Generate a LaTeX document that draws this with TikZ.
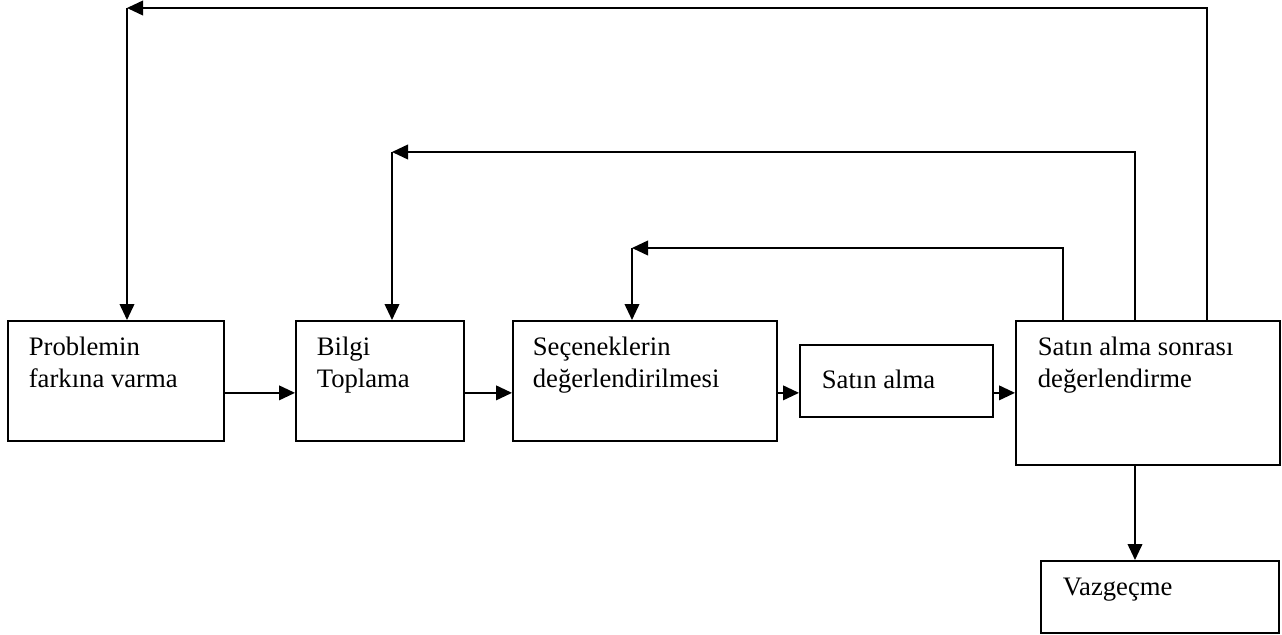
\documentclass[tikz,border=0pt]{standalone}
\usepackage{fontspec}
\setmainfont{Liberation Serif}
\usetikzlibrary{arrows.meta}

\begin{document}
\begin{tikzpicture}[x=0.75pt, y=-0.75pt, line width=1.3pt,
  kutu/.style={draw, anchor=north west, inner sep=0pt},
  yazi/.style={anchor=base west, align=left, inner sep=0pt, font=\fontsize{20}{24}\selectfont},
  ok/.style={-{Triangle[length=12pt, width=11pt]}}]
\useasboundingbox (0,0) rectangle (1282,635);

% kutular
\node[kutu, minimum width=162pt, minimum height=90pt] (p1) at (7,320) {};
\node[kutu, minimum width=126pt, minimum height=90pt] (p2) at (295,320) {};
\node[kutu, minimum width=198pt, minimum height=90pt] (p3) at (512,320) {};
\node[kutu, minimum width=144.75pt, minimum height=54pt] (p4) at (799,344) {};
\node[kutu, minimum width=198pt, minimum height=108pt] (p5) at (1015,320) {};
\node[kutu, minimum width=178.5pt, minimum height=54pt] (p6) at (1040,560) {};

% yazilar (base = son satir)
\node[yazi] (t1) at (28,387) {Problemin\\farkına varma};
\node[yazi] (t2) at (316,387) {Bilgi\\Toplama};
\node[yazi] (t3) at (532,387) {Seçeneklerin\\değerlendirilmesi};
\node[yazi] (t4) at (821,388) {Satın alma};
\node[yazi] (t5) at (1037,387) {Satın alma sonrası\\değerlendirme};
\node[yazi] (t6) at (1062,595) {Vazgeçme};

% ileri oklar
\draw[ok] (p1.east |- p5.west) -- (p2.west |- p5.west);
\draw[ok] (p2.east |- p5.west) -- (p3.west |- p5.west);
\draw[ok] (p3.east |- p5.west) -- (p4.west |- p5.west);
\draw[ok] (p4.east |- p5.west) -- (p5.west);

% geri donus oklari
\coordinate (k1) at (127,8);
\coordinate (k2) at (392,152);
\coordinate (k3) at (632,248);
\coordinate (u1) at (1207,8);
\coordinate (u2) at (1135,152);
\coordinate (u3) at (1063,248);
\draw[ok] (p5.north -| u1) |- (k1);
\draw[ok] (k1) -- (p1.north -| k1);
\draw[ok] (p5.north -| u2) |- (k2);
\draw[ok] (k2) -- (p2.north -| k2);
\draw[ok] (p5.north -| u3) |- (k3);
\draw[ok] (k3) -- (p3.north -| k3);

% vazgecme
\draw[ok] (p5.south -| u2) -- (p6.north -| u2);
\end{tikzpicture}
\end{document}
